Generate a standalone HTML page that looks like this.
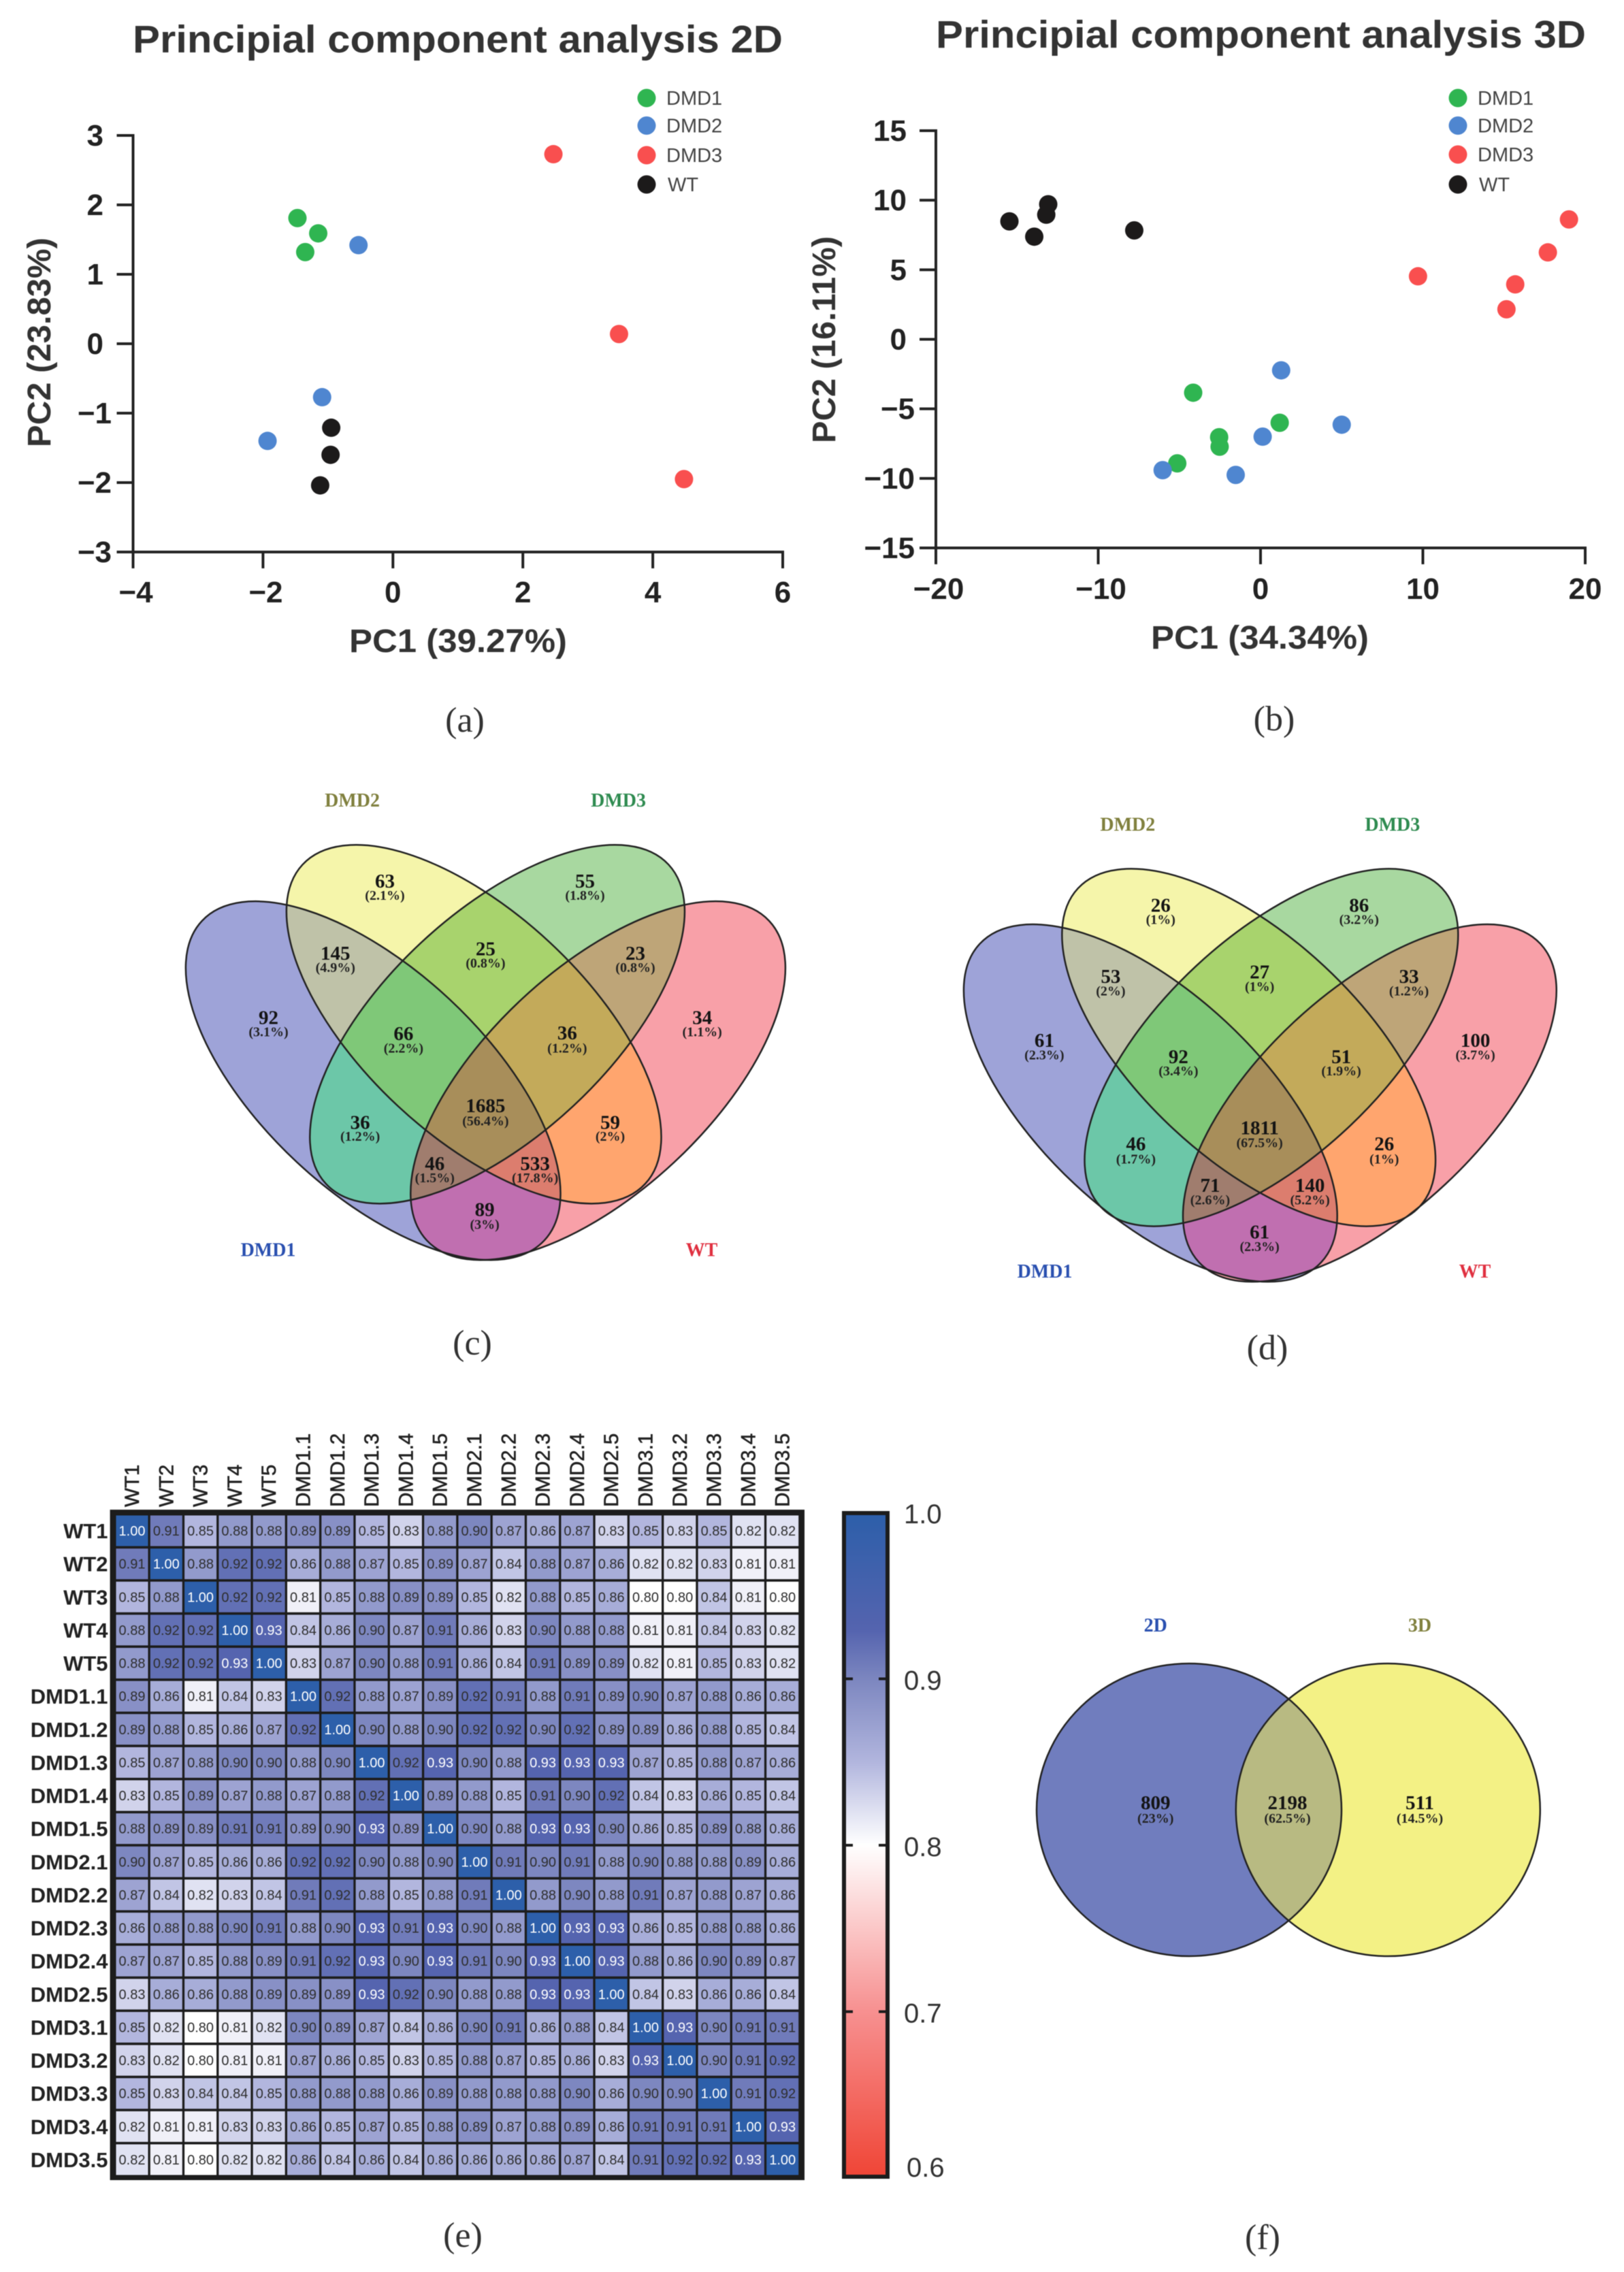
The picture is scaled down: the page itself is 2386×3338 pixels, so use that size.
<!DOCTYPE html>
<html lang="en">
<head>
<meta charset="utf-8">
<title>PCA, Venn and correlation figure</title>
<style>
html,body{margin:0;padding:0;background:#fff}
svg{display:block;filter:blur(0.6px)}
text{font-family:"Liberation Sans",sans-serif}
text.serif-label{font-family:"Liberation Serif",serif;font-weight:bold}
.caption{font-family:"Liberation Serif",serif;font-size:52px;fill:#333;text-anchor:middle}
.title{font-weight:bold;font-size:57px;fill:#333}
.axis-title{font-weight:bold;font-size:48px;fill:#333;text-anchor:middle}
</style>
</head>
<body>
<svg id="fig" xmlns="http://www.w3.org/2000/svg" width="2386" height="3338" viewBox="0 0 2386 3338">
  <rect width="2386" height="3338" fill="#fff"/>
  <defs id="defs"></defs>

  <g id="panel-a">
    <text class="title" x="195" y="77" textLength="955" lengthAdjust="spacingAndGlyphs">Principial component analysis 2D</text>
    <text class="axis-title" x="673" y="958" textLength="320" lengthAdjust="spacingAndGlyphs">PC1 (39.27%)</text>
    <text class="axis-title" transform="translate(74 503) rotate(-90)" textLength="308" lengthAdjust="spacingAndGlyphs">PC2 (23.83%)</text>
    <text class="caption" x="683" y="1075">(a)</text>
  </g>

  <g id="panel-b">
    <text class="title" x="1375" y="70" textLength="955" lengthAdjust="spacingAndGlyphs">Principial component analysis 3D</text>
    <text class="axis-title" x="1851" y="953" textLength="320" lengthAdjust="spacingAndGlyphs">PC1 (34.34%)</text>
    <text class="axis-title" transform="translate(1227 499) rotate(-90)" textLength="304" lengthAdjust="spacingAndGlyphs">PC2 (16.11%)</text>
    <text class="caption" x="1872" y="1073">(b)</text>
  </g>

  <g id="panel-c">
    <text class="caption" x="694" y="1990">(c)</text>
  </g>
  <g id="panel-d">
    <text class="caption" x="1862" y="1997">(d)</text>
  </g>
  <g id="panel-e">
    <text class="caption" x="680" y="3301">(e)</text>
  </g>
  <g id="panel-f">
    <text class="caption" x="1855" y="3304">(f)</text>
  </g>
</svg>

<script>
/* ---------- PCA 2D data ---------- */
const pca2dXTicks = [-4, -2, 0, 2, 4, 6];
const pca2dYTicks = [-3, -2, -1, 0, 1, 2, 3];
const pca2dDmd1X = [-1.47, -1.15, -1.35];
const pca2dDmd1Y = [1.81, 1.59, 1.32];
const pca2dDmd2X = [-0.53, -1.09, -1.93];
const pca2dDmd2Y = [1.42, -0.77, -1.40];
const pca2dDmd3X = [2.47, 3.48, 4.48];
const pca2dDmd3Y = [2.73, 0.14, -1.95];
const pca2dWtX = [-0.95, -0.96, -1.12];
const pca2dWtY = [-1.21, -1.60, -2.04];

/* ---------- PCA 3D data ---------- */
const pca3dXTicks = [-20, -10, 0, 10, 20];
const pca3dYTicks = [-15, -10, -5, 0, 5, 10, 15];
const pca3dDmd1X = [-4.15, 1.18, -2.55, -2.52, -5.13];
const pca3dDmd1Y = [-3.84, -6.0, -7.04, -7.72, -8.92];
const pca3dDmd2X = [1.27, 5.0, 0.13, -6.03, -1.53];
const pca3dDmd2Y = [-2.23, -6.14, -7.0, -9.41, -9.75];
const pca3dDmd3X = [9.7, 15.15, 15.69, 17.7, 19.0];
const pca3dDmd3Y = [4.53, 2.16, 3.95, 6.25, 8.62];
const pca3dWtX = [-15.47, -13.94, -13.2, -13.08, -7.78];
const pca3dWtY = [8.48, 7.38, 8.96, 9.71, 7.83];

const legendNames = ['DMD1', 'DMD2', 'DMD3', 'WT'];

/* ---------- Venn data ---------- */
const vennCCounts = ['63','55','145','25','23','92','34','66','36','1685','36','59','46','533','89'];
const vennCPercents = ['(2.1%)','(1.8%)','(4.9%)','(0.8%)','(0.8%)','(3.1%)','(1.1%)','(2.2%)','(1.2%)','(56.4%)','(1.2%)','(2%)','(1.5%)','(17.8%)','(3%)'];
const vennDCounts = ['26','86','53','27','33','61','100','92','51','1811','46','26','71','140','61'];
const vennDPercents = ['(1%)','(3.2%)','(2%)','(1%)','(1.2%)','(2.3%)','(3.7%)','(3.4%)','(1.9%)','(67.5%)','(1.7%)','(1%)','(2.6%)','(5.2%)','(2.3%)'];
const vennFCounts = ['809','2198','511'];
const vennFPercents = ['(23%)','(62.5%)','(14.5%)'];

/* ---------- Heatmap data ---------- */
const heatLabels = ['WT1','WT2','WT3','WT4','WT5','DMD1.1','DMD1.2','DMD1.3','DMD1.4','DMD1.5','DMD2.1','DMD2.2','DMD2.3','DMD2.4','DMD2.5','DMD3.1','DMD3.2','DMD3.3','DMD3.4','DMD3.5'];
const heatValues = [
[1.00,.91,.85,.88,.88,.89,.89,.85,.83,.88,.90,.87,.86,.87,.83,.85,.83,.85,.82,.82],
[.91,1.00,.88,.92,.92,.86,.88,.87,.85,.89,.87,.84,.88,.87,.86,.82,.82,.83,.81,.81],
[.85,.88,1.00,.92,.92,.81,.85,.88,.89,.89,.85,.82,.88,.85,.86,.80,.80,.84,.81,.80],
[.88,.92,.92,1.00,.93,.84,.86,.90,.87,.91,.86,.83,.90,.88,.88,.81,.81,.84,.83,.82],
[.88,.92,.92,.93,1.00,.83,.87,.90,.88,.91,.86,.84,.91,.89,.89,.82,.81,.85,.83,.82],
[.89,.86,.81,.84,.83,1.00,.92,.88,.87,.89,.92,.91,.88,.91,.89,.90,.87,.88,.86,.86],
[.89,.88,.85,.86,.87,.92,1.00,.90,.88,.90,.92,.92,.90,.92,.89,.89,.86,.88,.85,.84],
[.85,.87,.88,.90,.90,.88,.90,1.00,.92,.93,.90,.88,.93,.93,.93,.87,.85,.88,.87,.86],
[.83,.85,.89,.87,.88,.87,.88,.92,1.00,.89,.88,.85,.91,.90,.92,.84,.83,.86,.85,.84],
[.88,.89,.89,.91,.91,.89,.90,.93,.89,1.00,.90,.88,.93,.93,.90,.86,.85,.89,.88,.86],
[.90,.87,.85,.86,.86,.92,.92,.90,.88,.90,1.00,.91,.90,.91,.88,.90,.88,.88,.89,.86],
[.87,.84,.82,.83,.84,.91,.92,.88,.85,.88,.91,1.00,.88,.90,.88,.91,.87,.88,.87,.86],
[.86,.88,.88,.90,.91,.88,.90,.93,.91,.93,.90,.88,1.00,.93,.93,.86,.85,.88,.88,.86],
[.87,.87,.85,.88,.89,.91,.92,.93,.90,.93,.91,.90,.93,1.00,.93,.88,.86,.90,.89,.87],
[.83,.86,.86,.88,.89,.89,.89,.93,.92,.90,.88,.88,.93,.93,1.00,.84,.83,.86,.86,.84],
[.85,.82,.80,.81,.82,.90,.89,.87,.84,.86,.90,.91,.86,.88,.84,1.00,.93,.90,.91,.91],
[.83,.82,.80,.81,.81,.87,.86,.85,.83,.85,.88,.87,.85,.86,.83,.93,1.00,.90,.91,.92],
[.85,.83,.84,.84,.85,.88,.88,.88,.86,.89,.88,.88,.88,.90,.86,.90,.90,1.00,.91,.92],
[.82,.81,.81,.83,.83,.86,.85,.87,.85,.88,.89,.87,.88,.89,.86,.91,.91,.91,1.00,.93],
[.82,.81,.80,.82,.82,.86,.84,.86,.84,.86,.86,.86,.86,.87,.84,.91,.92,.92,.93,1.00]
];
const colorbarTicks = [1.0, 0.9, 0.8, 0.7, 0.6];

/* ---------- helpers ---------- */
const NS = 'http://www.w3.org/2000/svg';
function mk(tag, attrs, parent, txt) {
  const e = document.createElementNS(NS, tag);
  for (const k in attrs) e.setAttribute(k, attrs[k]);
  if (txt !== undefined) e.textContent = txt;
  if (parent) parent.appendChild(e);
  return e;
}
const minusFmt = v => String(v).replace('-', '\u2212');
const INK = '#232323';
const dotColors = ['#2fb551', '#4f86d0', '#f94f4f', '#1c1a1a'];

/* ---------- scatter ---------- */
function drawScatter(cfg) {
  const root = document.getElementById(cfg.root);
  const sx = v => cfg.x0 + (v - cfg.xTicks[0]) / (cfg.xTicks[cfg.xTicks.length - 1] - cfg.xTicks[0]) * (cfg.x1 - cfg.x0);
  const sy = v => cfg.y0 - (v - cfg.yTicks[0]) / (cfg.yTicks[cfg.yTicks.length - 1] - cfg.yTicks[0]) * (cfg.y0 - cfg.y1);

  const xLine = mk('line', {x1: cfg.x0 - 2, x2: cfg.x1 + 2, y1: cfg.y0, y2: cfg.y0, stroke: INK, 'stroke-width': 4}, root);
  
  
  const yLine = mk('line', {x1: cfg.x0, x2: cfg.x0, y1: cfg.y1 - 2, y2: cfg.y0 + 2, stroke: INK, 'stroke-width': 4}, root);
  
  

  cfg.xTicks.forEach(v => {
    const t = mk('line', {x1: sx(v), x2: sx(v), y1: cfg.y0, y2: cfg.y0 + 24, stroke: INK, 'stroke-width': 4}, root);
    
    
    const l = mk('text', {x: sx(v) + (v < 0 ? 4 : 0), y: cfg.xLabelY, 'text-anchor': 'middle', 'font-weight': 'bold', 'font-size': 44, fill: '#222'}, root, minusFmt(v));
    
    
  });
  cfg.yTicks.forEach(v => {
    const t = mk('line', {x1: cfg.x0 - 24, x2: cfg.x0, y1: sy(v), y2: sy(v), stroke: INK, 'stroke-width': 4}, root);
    
    
    const l = mk('text', {x: cfg.yLabelX + (v < 0 ? 12 : 0), y: sy(v) + 15, 'text-anchor': 'end', 'font-weight': 'bold', 'font-size': 44, fill: '#222'}, root, minusFmt(v));
    
    
  });

  cfg.series.forEach((s, si) => {
    s.x.forEach((xv, i) => {
      const c = mk('circle', {cx: sx(xv), cy: sy(s.y[i]), r: 13.5, fill: dotColors[si]}, root);
      
      
    });
  });

  legendNames.forEach((n, i) => {
    const c = mk('circle', {cx: cfg.legX, cy: cfg.legY[i], r: 13.5, fill: dotColors[i]}, root);
    
    
    const t = mk('text', {x: cfg.legX + 29 + (n === 'WT' ? 2 : 0), y: cfg.legY[i] + 10, 'font-size': 29, fill: '#444'}, root, n);
    
    
  });
}

drawScatter({
  root: 'panel-a', x0: 195.5, x1: 1150, y0: 811, y1: 199,
  xTicks: pca2dXTicks, yTicks: pca2dYTicks, xLabelY: 885, yLabelX: 152,
  legX: 950, legY: [144, 184.5, 228, 271],
  series: [
    {x: pca2dDmd1X, y: pca2dDmd1Y}, {x: pca2dDmd2X, y: pca2dDmd2Y},
    {x: pca2dDmd3X, y: pca2dDmd3Y}, {x: pca2dWtX, y: pca2dWtY}
  ]
});
drawScatter({
  root: 'panel-b', x0: 1375, x1: 2329, y0: 805, y1: 192,
  xTicks: pca3dXTicks, yTicks: pca3dYTicks, xLabelY: 880, yLabelX: 1332,
  legX: 2142, legY: [144, 184.5, 227, 271],
  series: [
    {x: pca3dDmd1X, y: pca3dDmd1Y}, {x: pca3dDmd2X, y: pca3dDmd2Y},
    {x: pca3dDmd3X, y: pca3dDmd3Y}, {x: pca3dWtX, y: pca3dWtY}
  ]
});

/* ---------- venn ---------- */
const defs = document.getElementById('defs');
function drawVenn(cfg) {
  const root = document.getElementById(cfg.root);
  cfg.sets.forEach((s, i) => {
    const cp = mk('clipPath', {id: cfg.root + '-clip-' + i}, defs);
    mk('ellipse', {cx: s.cx, cy: s.cy, rx: s.rx, ry: s.ry, transform: `rotate(${s.rot} ${s.cx} ${s.cy})`}, cp);
  });
  const masks = Object.keys(cfg.colors).map(Number);
  const bits = m => m.toString(2).replace(/0/g, '').length;
  masks.sort((a, b) => bits(a) - bits(b));
  masks.forEach(m => {
    let parent = root;
    cfg.sets.forEach((s, i) => {
      if (m & (1 << i)) parent = mk('g', {'clip-path': `url(#${cfg.root}-clip-${i})`}, parent);
    });
    const r = mk('rect', {x: cfg.box[0], y: cfg.box[1], width: cfg.box[2], height: cfg.box[3], fill: cfg.colors[m]}, parent);
    
    
  });
  cfg.sets.forEach(s => {
    const o = mk('ellipse', {cx: s.cx, cy: s.cy, rx: s.rx, ry: s.ry, fill: 'none', stroke: '#222', 'stroke-width': 2.5, transform: `rotate(${s.rot} ${s.cx} ${s.cy})`}, root);
    
    
  });
  cfg.heads.forEach(h => {
    const t = mk('text', {class: 'serif-label', x: h[1], y: h[2] + 10, 'text-anchor': 'middle', 'font-size': 28, fill: h[3]}, root, h[0]);
    
    
  });
  cfg.anchors.forEach((a, i) => {
    const n = mk('text', {class: 'serif-label', x: a[0], y: a[1] + 10, 'text-anchor': 'middle', 'font-size': 29, fill: '#141414'}, root, cfg.counts[i]);
    
    
    const p = mk('text', {class: 'serif-label', x: a[0], y: a[2] + 7, 'text-anchor': 'middle', 'font-size': 20, fill: '#222'}, root, cfg.percents[i]);
    
    
  });
}
const fourColors = {
  1: '#9ea3d8', 2: '#f5f5aa', 4: '#a8d8a0', 8: '#f8a0a8',
  3: '#bfc2a8', 6: '#a8d36d', 12: '#bea578', 5: '#6cc7a8', 10: '#ffa56e', 9: '#c06fb0',
  7: '#7fc878', 14: '#c3aa5a', 13: '#a07d6e', 11: '#dc7d6e', 15: '#a88e5a'
};
function convert(ox, oy, list) {
  return list.map(a => [ox + a[0] * 0.6378, oy + a[1] * 0.606, oy + a[2] * 0.606]);
}
drawVenn({
  root: 'panel-c', box: [250, 1220, 930, 660], colors: fourColors,
  sets: [
    {name: 'DMD1', cx: 548.2, cy: 1587.7, rx: 344, ry: 164, rot: 43},
    {name: 'DMD2', cx: 696.2, cy: 1504.8, rx: 344, ry: 164, rot: 43},
    {name: 'DMD3', cx: 730.6, cy: 1504.8, rx: 344, ry: 164, rot: -43},
    {name: 'WT', cx: 878.6, cy: 1587.7, rx: 344, ry: 164, rot: -43}
  ],
  heads: [['DMD2', 517.6, 1175, '#80803e'], ['DMD3', 908.6, 1175, '#2e8b50'], ['DMD1', 394, 1835.7, '#2a50b0'], ['WT', 1031, 1835.7, '#e03040']],
  anchors: convert(200, 1100, [[573,320,355],[1034,320,355],[459,495,530],[805,484,519],[1150,495,530],[305,651,686],[1304,651,686],[616,690,725],[993,688,725],[805,865,902],[516,905,939],[1092,905,939],[688,1005,1040],[919,1005,1040],[803,1116,1153]]),
  counts: vennCCounts, percents: vennCPercents
});
drawVenn({
  root: 'panel-d', box: [1390, 1250, 940, 660], colors: fourColors,
  sets: [
    {name: 'DMD1', cx: 1690.3, cy: 1620.6, rx: 343, ry: 163, rot: 43},
    {name: 'DMD2', cx: 1834.7, cy: 1539, rx: 343, ry: 163, rot: 43},
    {name: 'DMD3', cx: 1867.9, cy: 1539, rx: 343, ry: 163, rot: -43},
    {name: 'WT', cx: 2012.4, cy: 1620.6, rx: 343, ry: 163, rot: -43}
  ],
  heads: [['DMD2', 1656.8, 1210.6, '#80803e'], ['DMD3', 2045.8, 1210.6, '#2e8b50'], ['DMD1', 1535, 1867, '#2a50b0'], ['WT', 2167, 1867, '#e03040']],
  anchors: convert(1350, 1130, [[557,329,364],[1014,329,364],[442,502,537],[785,491,526],[1129,502,537],[289,657,692],[1282,657,692],[598,696,731],[973,696,731],[785,869,905],[500,908,945],[1072,908,945],[671,1008,1044],[901,1008,1044],[785,1121,1157]]),
  counts: vennDCounts, percents: vennDPercents
});
drawVenn({
  root: 'panel-f', box: [1500, 2420, 790, 480],
  colors: {1: '#707dbe', 2: '#f3f185', 3: '#b8ba82'},
  sets: [
    {name: '2D', cx: 1747, cy: 2659, rx: 224, ry: 215, rot: 0},
    {name: '3D', cx: 2039.3, cy: 2659, rx: 223.5, ry: 215, rot: 0}
  ],
  heads: [['2D', 1697.7, 2387, '#2a50b0'], ['3D', 2086, 2387, '#80803e']],
  anchors: [[1697.7, 2648, 2671], [1891.5, 2648, 2671], [2086, 2648, 2671]],
  counts: vennFCounts, percents: vennFPercents
});

/* ---------- heatmap ---------- */
const colorStops = [
  [0.60, [240, 70, 55]],
  [0.70, [247, 145, 145]],
  [0.80, [255, 255, 255]],
  [0.85, [178, 182, 222]],
  [0.90, [125, 135, 192]],
  [0.93, [85, 100, 175]],
  [1.00, [45, 95, 170]]
];
function heatColor(v) {
  for (let i = 1; i < colorStops.length; i++) {
    if (v <= colorStops[i][0]) {
      const a = colorStops[i - 1], b = colorStops[i];
      const t = (v - a[0]) / (b[0] - a[0]);
      const c = a[1].map((q, k) => Math.round(q + (b[1][k] - q) * t));
      return `rgb(${c[0]},${c[1]},${c[2]})`;
    }
  }
  return 'rgb(45,95,170)';
}
(function () {
  const root = document.getElementById('panel-e');
  const colX = i => 194 + i * 50.3;
  const rowY = i => 2249 + i * 48.63;
  const frame = mk('rect', {x: 161.6, y: 2218, width: 1020.4, height: 985, fill: '#1c1c1c'}, root);
  
  
  heatValues.forEach((row, r) => {
    row.forEach((v, c) => {
      const cell = mk('rect', {x: colX(c) - 23.5, y: rowY(r) - 22.5, width: 47, height: 45, fill: heatColor(v)}, root);
      
      
      const t = mk('text', {x: colX(c), y: rowY(r) + 7, 'text-anchor': 'middle', 'font-size': 20, fill: v >= 0.93 ? '#fff' : '#2e2e2e'}, root, v.toFixed(2));
      
      
    });
  });
  heatLabels.forEach((n, i) => {
    const rl = mk('text', {x: 158.5, y: rowY(i) + 11, 'text-anchor': 'end', 'font-size': 31, 'font-weight': 'bold', fill: '#222'}, root, n);
    
    
    const cl = mk('text', {transform: `translate(${colX(i) + 10} 2214) rotate(-90)`, 'font-size': 29.5, fill: '#222', stroke: '#222', 'stroke-width': 0.6}, root, n);
    
    
  });

  /* colour bar */
  const top = 2222, perUnit = 2445;
  const barY = v => top + (1 - v) * perUnit;
  const grad = mk('linearGradient', {id: 'cbar', x1: 0, y1: 0, x2: 0, y2: 1}, defs);
  colorStops.slice().reverse().forEach(s => {
    mk('stop', {offset: (1 - s[0]) / 0.4, 'stop-color': `rgb(${s[1].join(',')})`}, grad);
  });
  const bf = mk('rect', {x: 1237, y: 2220, width: 70, height: 981, fill: '#1c1c1c'}, root);
  
  
  const bi = mk('rect', {x: 1243, y: 2226, width: 58, height: 969, fill: 'url(#cbar)'}, root);
  
  
  colorbarTicks.forEach((v, i) => {
    const edge = i === 0 || i === colorbarTicks.length - 1;
    if (!edge) {
      const tl = mk('rect', {x: 1243, y: barY(v) - 2, width: 10, height: 4, fill: '#1c1c1c'}, root);
      
      
      const tr = mk('rect', {x: 1291, y: barY(v) - 2, width: 10, height: 4, fill: '#1c1c1c'}, root);
      
      
    }
    const ly = i === colorbarTicks.length - 1 ? barY(v) - 16 : barY(v) + 2;
    const lab = mk('text', {x: i === colorbarTicks.length - 1 ? 1332 : 1328, y: ly + 14, 'font-size': 40, fill: '#333'}, root, v.toFixed(1));
    
    
  });
})();
</script>
</body>
</html>
